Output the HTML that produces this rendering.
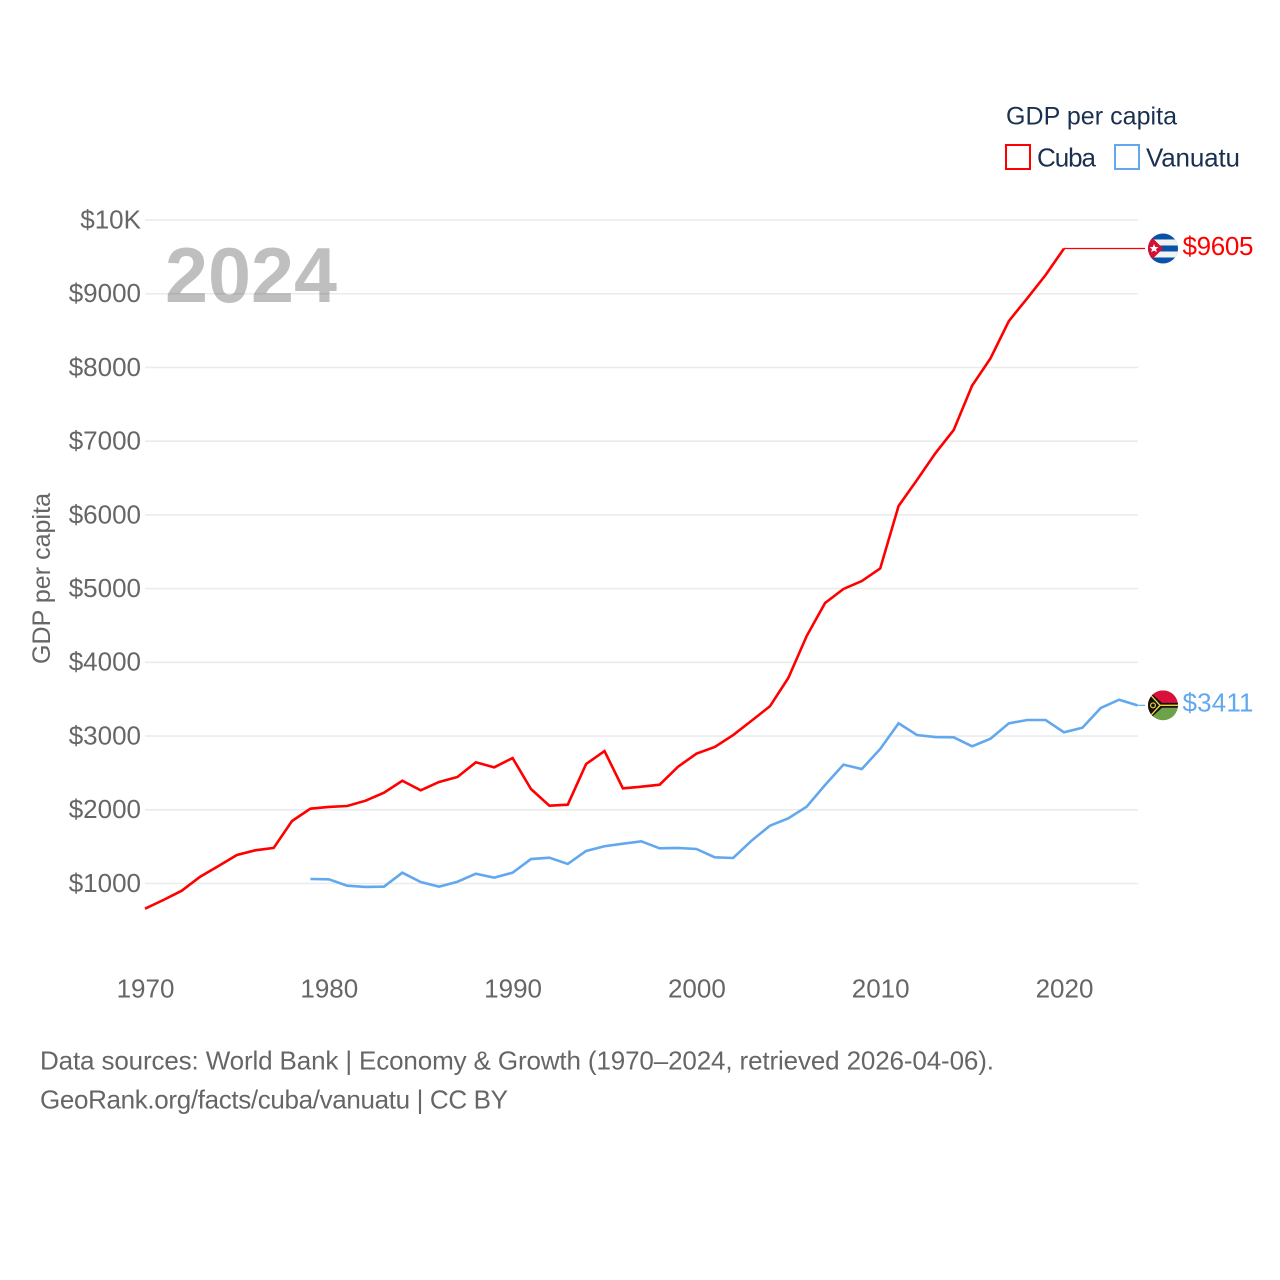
<!DOCTYPE html>
<html lang="en">
<head>
<meta charset="utf-8">
<title>GDP per capita: Cuba and Vanuatu</title>
<style>
html,body{margin:0;padding:0;background:#fff;width:1280px;height:1280px;overflow:hidden}
svg{display:block;font-family:"Liberation Sans",sans-serif}
</style>
</head>
<body>
<svg id="chart" width="1280" height="1280" viewBox="0 0 1280 1280" xmlns="http://www.w3.org/2000/svg">
  <defs>
    <clipPath id="flag-clip"><circle cx="0" cy="0" r="15"/></clipPath>
  </defs>
  <rect x="0" y="0" width="1280" height="1280" fill="#fff"/>
  <g id="grid"></g>
  <g id="y-ticks"></g>
  <g id="x-ticks"></g>
  <text transform="translate(50,578.5) rotate(-90)" text-anchor="middle" font-size="25" fill="#666" textLength="171" lengthAdjust="spacing">GDP per capita</text>
  <text x="165" y="302" font-size="78" font-weight="700" fill="#000" fill-opacity="0.25" textLength="172" lengthAdjust="spacingAndGlyphs">2024</text>
  <g id="series"></g>

  <g>
    <text x="1006" y="124.5" font-size="25" fill="#1a3050" textLength="171" lengthAdjust="spacing">GDP per capita</text>
    <g>
      <rect x="1006" y="145" width="24" height="24" fill="none" stroke="#ff0000" stroke-width="2"/>
      <text x="1037" y="166.5" font-size="26" fill="#1a3050" textLength="59" lengthAdjust="spacing">Cuba</text>
    </g>
    <g>
      <rect x="1115" y="145" width="24" height="24" fill="none" stroke="#62a8ee" stroke-width="2"/>
      <text x="1146" y="166.5" font-size="26" fill="#1a3050" textLength="94" lengthAdjust="spacing">Vanuatu</text>
    </g>
  </g>

  <g id="flag-cuba" clip-path="url(#flag-clip)">
    <rect x="-15" y="-15" width="30" height="30" fill="#0a51a8"/>
    <rect x="-15" y="-9" width="30" height="6" fill="#f2f2f2"/>
    <rect x="-15" y="3" width="30" height="6" fill="#f2f2f2"/>
    <polygon points="-15,-15 0,0 -15,15" fill="#d21034"/>
    <polygon points="-9,-4.5 -7.8,-1.5 -4.6,-1.4 -7,0.6 -6.2,3.8 -9,2 -11.8,3.8 -11,0.6 -13.4,-1.4 -10.2,-1.5" fill="#fff"/>
  </g>
  <g id="flag-vanuatu" clip-path="url(#flag-clip)">
    <rect x="-15" y="-15" width="30" height="15" fill="#d8103a"/>
    <rect x="-15" y="0" width="30" height="15" fill="#6ea24a"/>
    <polygon points="-15,-15 -1,-2.4 15,-2.4 15,2.4 -1,2.4 -15,15" fill="#111"/>
    <polyline points="-13,-11 -3,0 -13,11" fill="none" stroke="#f5d33a" stroke-width="1.4"/>
    <rect x="-3" y="-0.7" width="18" height="1.4" fill="#f5d33a"/>
    <circle cx="-10" cy="0" r="2.4" fill="none" stroke="#f5d33a" stroke-width="1.2"/>
  </g>

  <text id="value-cuba" x="1182.5" font-size="26" fill="#ff0000" textLength="71" lengthAdjust="spacing"></text>
  <text id="value-vanuatu" x="1182.5" font-size="26" fill="#62a8ee" textLength="71" lengthAdjust="spacing"></text>

  <g>
    <text x="40" y="1069.5" font-size="26" fill="#666" textLength="954" lengthAdjust="spacing">Data sources: World Bank | Economy &amp; Growth (1970–2024, retrieved 2026-04-06).</text>
    <text x="40" y="1108.5" font-size="26" fill="#666" textLength="468" lengthAdjust="spacing">GeoRank.org/facts/cuba/vanuatu | CC BY</text>
  </g>
</svg>
<script>
const startYear = 1970;
const cubaValues = [658,776,902,1092,1237,1387,1450,1482,1848,2015,2038,2051,2123,2232,2394,2264,2377,2445,2644,2576,2702,2282,2055,2069,2621,2797,2291,2313,2340,2584,2761,2852,3014,3208,3404,3788,4357,4805,4995,5103,5273,6121,6473,6836,7152,7753,8124,8630,8938,9254,9614,null,null,null,null];
const vanuatuValues = [null,null,null,null,null,null,null,null,null,1061,1057,970,953,957,1147,1020,957,1024,1133,1079,1147,1332,1350,1265,1441,1505,1540,1572,1477,1482,1468,1355,1346,1581,1784,1884,2042,2336,2612,2553,2825,3173,3014,2987,2983,2861,2964,3173,3218,3218,3051,3113,3381,3493,3417];
const yTickValues = [1000,2000,3000,4000,5000,6000,7000,8000,9000,10000];
const yTickLabels = ["$1000","$2000","$3000","$4000","$5000","$6000","$7000","$8000","$9000","$10K"];
const xTickValues = [1970,1980,1990,2000,2010,2020];
const xTickLabels = ["1970","1980","1990","2000","2010","2020"];
const cubaEndLabel = "$9605";
const vanuatuEndLabel = "$3411";

const NS = "http://www.w3.org/2000/svg";
function xScale(year) { return 145 + (year - 1970) * 18.38; }
function yScale(v) { return 883.5 - (v - 1000) * 0.07372; }
function make(tag, attrs, parent) {
  const el = document.createElementNS(NS, tag);
  for (const k in attrs) el.setAttribute(k, attrs[k]);
  parent.appendChild(el);
  return el;
}

const grid = document.getElementById("grid");
const yTicks = document.getElementById("y-ticks");
yTickValues.forEach(function (v, i) {
  const y = yScale(v);
  const line = make("line", { x1: 145, x2: 1138, y1: y, y2: y, stroke: "#ebebeb", "stroke-width": 1.6 }, grid);
  
  
  const t = make("text", { x: 141, y: y + 8.4, "text-anchor": "end", "font-size": 26, fill: "#666" }, yTicks);
  
  
  t.textContent = yTickLabels[i];
});

const xTicks = document.getElementById("x-ticks");
xTickValues.forEach(function (yr, i) {
  const t = make("text", { x: xScale(yr) + 0.5, y: 997.5, "text-anchor": "middle", "font-size": 26, fill: "#666" }, xTicks);
  
  
  t.textContent = xTickLabels[i];
});

const seriesGroup = document.getElementById("series");
function drawSeries(values, color, lineName, connectorName, flagId, labelId, labelText) {
  let d = "";
  let lastX = 0, lastY = 0;
  values.forEach(function (v, i) {
    if (v === null) return;
    lastX = xScale(startYear + i);
    lastY = yScale(v);
    d += (d ? "L" : "M") + lastX.toFixed(2) + " " + lastY.toFixed(2);
  });
  const connector = make("line", { x1: lastX, y1: lastY, x2: 1145, y2: lastY, stroke: color, "stroke-width": 1.2 }, seriesGroup);
  
  
  const path = make("path", { d: d, fill: "none", stroke: color, "stroke-width": 2.6, "stroke-linejoin": "miter" }, seriesGroup);
  
  
  document.getElementById(flagId).setAttribute("transform", "translate(1163," + lastY.toFixed(2) + ")");
  const label = document.getElementById(labelId);
  label.setAttribute("y", (lastY + 6.3).toFixed(2));
  label.textContent = labelText;
}
drawSeries(cubaValues, "#ff0000", "line-cuba", "connector-cuba", "flag-cuba", "value-cuba", cubaEndLabel);
drawSeries(vanuatuValues, "#62a8ee", "line-vanuatu", "connector-vanuatu", "flag-vanuatu", "value-vanuatu", vanuatuEndLabel);
</script>
</body>
</html>
